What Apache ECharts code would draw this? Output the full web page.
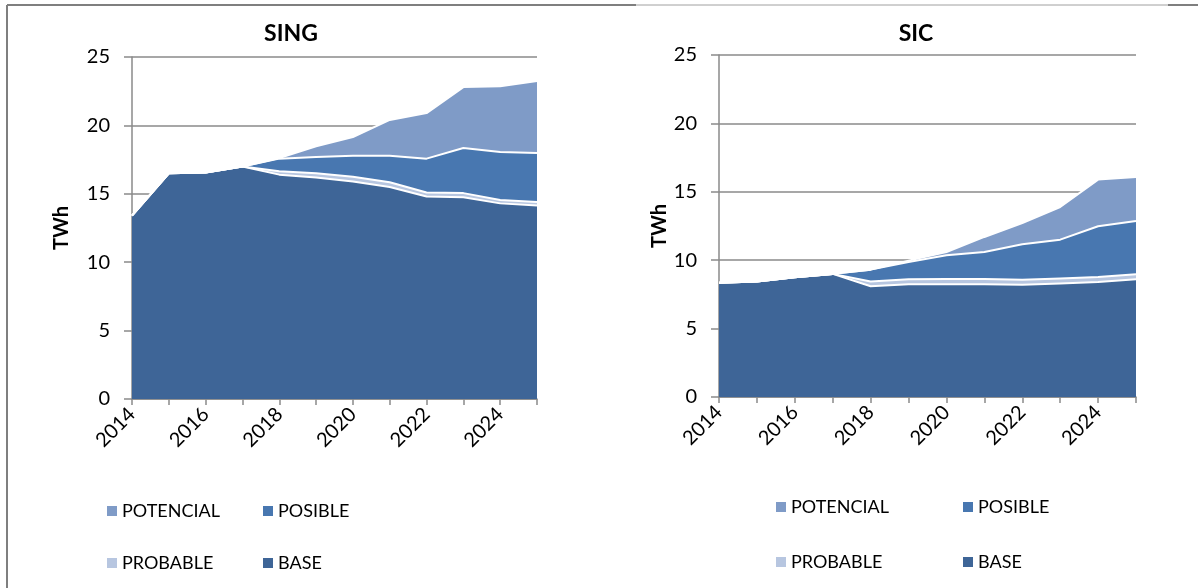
<!DOCTYPE html>
<html>
<head>
<meta charset="utf-8">
<script src="https://cdn.jsdelivr.net/npm/echarts@6/dist/echarts.min.js"></script>
<style>
html,body{margin:0;padding:0;background:#fff;}
#c{width:1198px;height:588px;}
</style>
</head>
<body>
<div id="c"></div>
<script>
const years = ['2014','2015','2016','2017','2018','2019','2020','2021','2022','2023','2024','2025'];
const seriesNames = ['BASE','PROBABLE','POSIBLE','POTENCIAL'];
const yTicks = [0, 5, 10, 15, 20, 25];

// SING (TWh), stacked layers
const singBase      = [13.4, 16.5, 16.55, 17.0, 16.4, 16.2, 15.9, 15.5, 14.8, 14.75, 14.3, 14.15];
const singProbable  = [0, 0, 0, 0, 0.25, 0.3, 0.35, 0.35, 0.3, 0.3, 0.25, 0.25];
const singPosible   = [0, 0, 0, 0, 0.92, 1.19, 1.53, 1.93, 2.47, 3.3, 3.5, 3.58];
const singPotencial = [0, 0, 0, 0, 0.05, 0.78, 1.37, 2.62, 3.33, 4.45, 4.82, 5.26];

// SIC (TWh), stacked layers
const sicBase      = [8.35, 8.45, 8.75, 9.0, 8.1, 8.25, 8.25, 8.25, 8.2, 8.3, 8.4, 8.6];
const sicProbable  = [0, 0, 0, 0, 0.35, 0.35, 0.37, 0.37, 0.37, 0.37, 0.37, 0.37];
const sicPosible   = [0, 0, 0, 0, 0.86, 1.27, 1.74, 1.98, 2.59, 2.83, 3.71, 3.9];
const sicPotencial = [0, 0, 0, 0, 0, 0.1, 0.24, 1.1, 1.56, 2.39, 3.41, 3.21];

const colors = {BASE:'#3E6597', PROBABLE:'#B7C6E0', POSIBLE:'#4877B0', POTENCIAL:'#7F9BC7'};
const FONT = "Lato, 'Liberation Sans', sans-serif";
const axisGray = '#8a8a8a';

const chart = echarts.init(document.getElementById('c'), null, {renderer:'canvas'});

function xAxis(gi){
  return {
    type:'category', gridIndex:gi, data:years, boundaryGap:false,
    axisLine:{lineStyle:{color:axisGray, width:1.5}},
    axisTick:{interval:0, length:6, lineStyle:{color:axisGray, width:1.5}},
    axisLabel:{interval:1, rotate:45, margin:12, color:'#000', fontFamily:FONT, fontSize:20}
  };
}
function yAxis(gi, gap){
  return {
    type:'value', gridIndex:gi, min:yTicks[0], max:yTicks[yTicks.length-1], interval:5,
    name:'TWh', nameLocation:'middle', nameRotate:90, nameGap:gap,
    nameTextStyle:{fontFamily:FONT, fontWeight:'bold', fontSize:20, color:'#000'},
    axisLine:{show:true, lineStyle:{color:axisGray, width:1.5}},
    axisTick:{show:true, length:8, lineStyle:{color:axisGray, width:1.5}},
    axisLabel:{margin:22, color:'#000', fontFamily:FONT, fontSize:20},
    splitLine:{lineStyle:{color:axisGray, width:1.5}}
  };
}
function area(name, data, gi, stack){
  return {
    name, type:'line', xAxisIndex:gi, yAxisIndex:gi, stack, data,
    symbol:'none', smooth:false,
    lineStyle:{color:'#fff', width:2},
    itemStyle:{color:colors[name]},
    areaStyle:{color:colors[name], opacity:1},
    emphasis:{disabled:true}
  };
}
function legendItem(name, left, top){
  return {
    data:[{name, icon:'rect', itemStyle:{color:colors[name]}}],
    left, top, itemWidth:10, itemHeight:10, itemGap:5, padding:0,
    selectedMode:false,
    textStyle:{fontFamily:FONT, fontSize:18, color:'#000', padding:[0,0,0,0]}
  };
}

const option = {
  animation:false,
  backgroundColor:'#fff',
  title:[
    {text:'SING', left:286, top:29, textAlign:'center', textVerticalAlign:'middle',
     textStyle:{fontFamily:FONT, fontWeight:'bold', fontSize:23, color:'#000'}},
    {text:'SIC', left:911, top:29, textAlign:'center', textVerticalAlign:'middle',
     textStyle:{fontFamily:FONT, fontWeight:'bold', fontSize:23, color:'#000'}}
  ],
  grid:[
    {left:132, top:57, width:405, height:342},
    {left:719, top:55, width:417, height:342}
  ],
  xAxis:[xAxis(0), xAxis(1)],
  yAxis:[yAxis(0, 60), yAxis(1, 48)],
  legend:[
    legendItem('POTENCIAL', 107, 502),
    legendItem('POSIBLE', 263, 502),
    legendItem('PROBABLE', 107, 554),
    legendItem('BASE', 263, 554),
    legendItem('POTENCIAL', 776, 498),
    legendItem('POSIBLE', 963, 498),
    legendItem('PROBABLE', 776, 553),
    legendItem('BASE', 963, 553)
  ],
  graphic:[
    {type:'line', shape:{x1:7, y1:5, x2:7, y2:588}, style:{stroke:'#7f7f7f', lineWidth:2}},
    {type:'line', shape:{x1:7, y1:5, x2:636, y2:5}, style:{stroke:'#7f7f7f', lineWidth:2}},
    {type:'line', shape:{x1:636, y1:5, x2:1168, y2:5}, style:{stroke:'#a0a0a0', lineWidth:1}},
    {type:'line', shape:{x1:1168, y1:5, x2:1198, y2:5}, style:{stroke:'#7f7f7f', lineWidth:2}}
  ],
  series:[
    area('BASE', singBase, 0, 'sing'),
    area('PROBABLE', singProbable, 0, 'sing'),
    area('POSIBLE', singPosible, 0, 'sing'),
    area('POTENCIAL', singPotencial, 0, 'sing'),
    area('BASE', sicBase, 1, 'sic'),
    area('PROBABLE', sicProbable, 1, 'sic'),
    area('POSIBLE', sicPosible, 1, 'sic'),
    area('POTENCIAL', sicPotencial, 1, 'sic')
  ]
};
chart.setOption(option);
</script>
</body>
</html>
